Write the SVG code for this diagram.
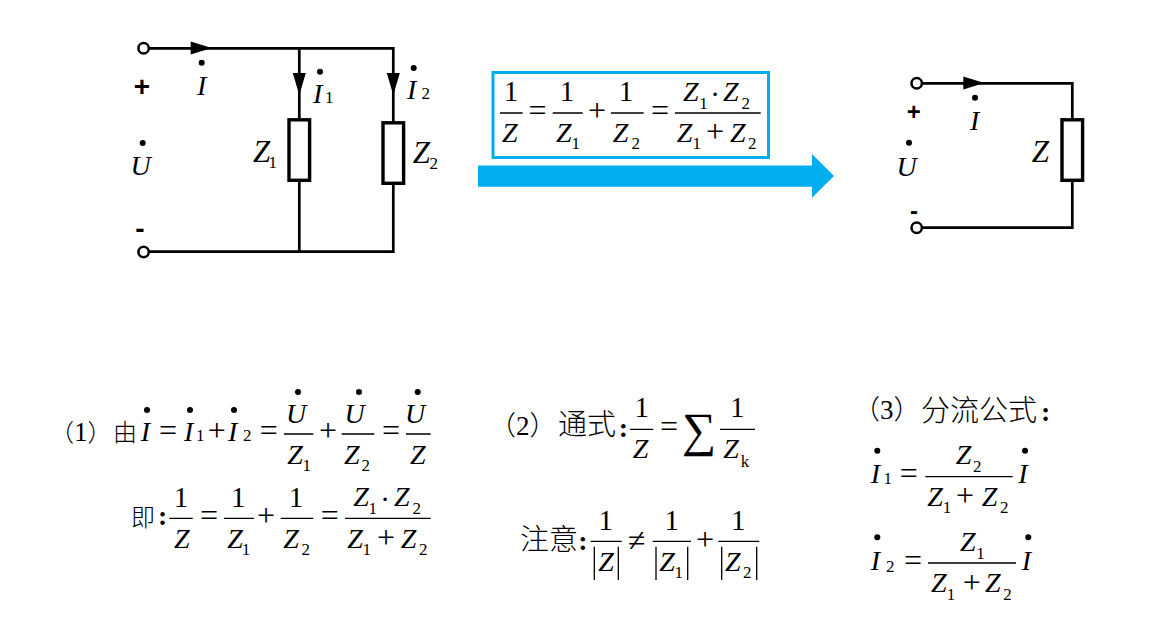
<svg xmlns="http://www.w3.org/2000/svg" xmlns:xlink="http://www.w3.org/1999/xlink" width="1154" height="620" viewBox="0 0 1154 620">
<style>
text{font-family:"Liberation Serif","Noto Sans CJK SC",serif;fill:#000}
.i{font-size:28px;font-style:italic}
.g{font-size:31px;font-style:italic}
.n{font-size:29px;text-anchor:middle}
.s{font-size:17px}
.o{font-size:32px;text-anchor:middle}
.c{font-size:24px;font-weight:300}
.cb{font-size:29px;font-weight:300}
.p{font-size:24px;font-weight:300}
.k{font-size:28px;font-weight:bold;text-anchor:middle}
.b{font-family:"Liberation Sans",sans-serif;font-weight:bold;text-anchor:middle}
.w{fill:none;stroke:#000;stroke-width:2.7}
.bar{stroke:#000;stroke-width:1.3;fill:none}
.abs{stroke:#000;stroke-width:1.3;fill:none}
.r{fill:#fff;stroke:#000;stroke-width:3.4}
.t{fill:#fff;stroke:#000;stroke-width:2.5}
.d{fill:#000}
</style>
<defs>
<path id="ar" d="M0-6.5L21 0L0 6.5Z"/>
<path id="ad" d="M-6.5 0L0 22L6.5 0Z"/>
</defs>
<rect width="1154" height="620" fill="#fff"/>
<g id="connectors">
<path class="w" d="M148 48.3H393.3V122M299.3 48.3V119M393.3 184V251.7H148M299.3 181V251.7"/>
<path class="w" d="M922 83.3H1072.3V119M1072.3 181V227.7H922"/>
<use xlink:href="#ar" href="#ar" x="190.7" y="48"/>
<use xlink:href="#ad" href="#ad" x="299.3" y="73"/>
<use xlink:href="#ad" href="#ad" x="393.3" y="73"/>
<use xlink:href="#ar" href="#ar" x="963.3" y="83"/>
</g>
<g id="terminal-a"><circle class="t" cx="143.6" cy="48.3" r="5.2"/></g>
<g id="terminal-b"><circle class="t" cx="143.6" cy="252" r="5.2"/></g>
<g id="terminal-c"><circle class="t" cx="916.7" cy="83.3" r="5.2"/></g>
<g id="terminal-d"><circle class="t" cx="916.7" cy="227.7" r="5.2"/></g>
<g id="z1"><rect class="r" x="289" y="119.8" width="20.6" height="60.5"/></g>
<g id="z2"><rect class="r" x="383" y="122.8" width="20.6" height="60.5"/></g>
<g id="z"><rect class="r" x="1062" y="119.8" width="20.6" height="60.5"/></g>
<g id="circuit-labels">
<text class="b" font-size="28" x="142" y="96">+</text>
<text class="b" font-size="28" x="140" y="237.5">-</text>
<text class="i" x="130.5" y="175">U</text><circle class="d" cx="142.7" cy="143" r="3"/>
<text class="i" x="197" y="95">I</text><circle class="d" cx="201.7" cy="62.7" r="3"/>
<text class="i" x="313" y="103">I</text><text class="s" x="325" y="103">1</text><circle class="d" cx="320" cy="71.7" r="3"/>
<text class="i" x="407" y="99">I</text><text class="s" x="421.5" y="99">2</text><circle class="d" cx="413.7" cy="68" r="3"/>
<text class="g" x="253" y="161.7">Z</text><text class="s" x="268.5" y="167.5">1</text>
<text class="g" x="412.7" y="163">Z</text><text class="s" x="429.5" y="169">2</text>
<text class="b" font-size="24" x="913.7" y="119.5">+</text>
<text class="b" font-size="24" x="914" y="218.5">-</text>
<text class="i" x="896.5" y="176">U</text><circle class="d" cx="909" cy="142.7" r="3"/>
<text class="i" x="970" y="130">I</text><circle class="d" cx="975" cy="97.7" r="3"/>
<text class="g" x="1031.7" y="161.7">Z</text>
</g>
<g id="transform-arrow"><path fill="#00AEEF" d="M478 165.5H812V154L834 176L812 197.7V186.7H478Z"/></g>
<g id="formula-box">
<rect x="493" y="72.5" width="275.5" height="85" fill="#fff" stroke="#00AEEF" stroke-width="3"/>
<path class="bar" d="M500 113H522.7M552.7 113H582.7M611 113H643.7M675 113H760.7"/>
<text class="n" x="511" y="101">1</text><text class="i" x="502" y="142">Z</text>
<text class="o" x="537.5" y="121">=</text>
<text class="n" x="567" y="101">1</text><text class="i" x="556" y="142">Z</text><text class="s" x="571.5" y="149">1</text>
<text class="o" x="597" y="121">+</text>
<text class="n" x="626" y="101">1</text><text class="i" x="612.7" y="142">Z</text><text class="s" x="631.5" y="149">2</text>
<text class="o" x="660" y="121">=</text>
<text class="i" x="683" y="100.7">Z</text><text class="s" x="699.2" y="109">1</text><text class="n" x="715" y="104">·</text><text class="i" x="723" y="100.7">Z</text><text class="s" x="741.5" y="109">2</text>
<text class="i" x="676.7" y="142">Z</text><text class="s" x="692.5" y="149">1</text><text class="o" x="715" y="142">+</text><text class="i" x="730" y="142">Z</text><text class="s" x="748" y="149">2</text>
</g>
<g id="eq-1">
<text class="p" x="50" y="441">（<tspan font-size="27">1</tspan>）</text>
<text class="c" x="113" y="441">由</text>
<text class="i" x="140.7" y="441">I</text><circle class="d" cx="147" cy="410" r="3"/>
<text class="o" x="168" y="441">=</text>
<text class="i" x="184" y="441">I</text><circle class="d" cx="190" cy="410" r="3"/><text class="s" x="196" y="441">1</text>
<text class="o" x="216.7" y="441">+</text>
<text class="i" x="228" y="441">I</text><circle class="d" cx="234" cy="410" r="3"/><text class="s" x="243" y="441">2</text>
<text class="o" x="268.7" y="441">=</text>
<path class="bar" d="M284 434H313.3M341.7 434H374.3M406 434H430.7"/>
<text class="i" x="286" y="422.7">U</text><circle class="d" cx="298" cy="392" r="3"/>
<text class="i" x="287.3" y="464">Z</text><text class="s" x="302.5" y="470.7">1</text>
<text class="o" x="328" y="441">+</text>
<text class="i" x="344.5" y="422.7">U</text><circle class="d" cx="359" cy="392" r="3"/>
<text class="i" x="344" y="464">Z</text><text class="s" x="361.5" y="470.7">2</text>
<text class="o" x="391" y="441">=</text>
<text class="i" x="405" y="422.7">U</text><circle class="d" cx="417.7" cy="392" r="3"/>
<text class="i" x="410" y="464">Z</text>
</g>
<g id="eq-1b">
<text class="c" x="131" y="526">即</text><text class="k" x="162.7" y="525">:</text>
<path class="bar" d="M169.3 518.3H192.7M224 518.3H254M280.7 518.3H313.3M345 518.3H430.7"/>
<text class="n" x="181" y="507.3">1</text><text class="i" x="174" y="547.7">Z</text>
<text class="o" x="209" y="526.3">=</text>
<text class="n" x="238.3" y="507.3">1</text><text class="i" x="227.3" y="547.7">Z</text><text class="s" x="241.8" y="555">1</text>
<text class="o" x="266" y="526.3">+</text>
<text class="n" x="296" y="507.3">1</text><text class="i" x="283.3" y="547.7">Z</text><text class="s" x="301.5" y="555">2</text>
<text class="o" x="329.7" y="526.3">=</text>
<text class="i" x="353.3" y="506">Z</text><text class="s" x="368.5" y="514.3">1</text><text class="n" x="385" y="509">·</text><text class="i" x="394" y="506">Z</text><text class="s" x="412.5" y="514.3">2</text>
<text class="i" x="347.3" y="547.7">Z</text><text class="s" x="362.5" y="555">1</text><text class="o" x="386" y="547.7">+</text><text class="i" x="400.7" y="547.7">Z</text><text class="s" x="419" y="555">2</text>
</g>
<g id="eq-2">
<text class="p" x="489" y="435" style="font-size:27px">（<tspan font-size="27">2</tspan>）</text>
<text class="cb" x="558" y="435">通式</text><text class="k" x="623.3" y="437">:</text>
<path class="bar" d="M630 429.3H653.3M720 429.3H755"/>
<text class="n" x="641.7" y="416.7">1</text><text class="i" x="632.7" y="458.3">Z</text>
<text class="o" x="669" y="437.3">=</text>
<text x="699" y="446" font-size="48" text-anchor="middle">∑</text>
<text class="n" x="737.3" y="416.7">1</text><text class="i" x="723.3" y="458.3">Z</text><text class="s" x="740.7" y="467.3">k</text>
</g>
<g id="eq-2b">
<text class="cb" x="520" y="550">注意</text><text class="k" x="583" y="550">:</text>
<path class="bar" d="M590.7 541.3H621.7M652.7 541.3H691M718.3 541.3H759.3"/>
<path class="abs" d="M594.3 546.7V580M618.3 546.7V580M656 546.7V580M687.7 546.7V580M721.7 546.7V580M756.7 546.7V580"/>
<text class="n" x="605.7" y="530">1</text><text class="i" x="598.3" y="570.7">Z</text>
<text class="o" x="636.7" y="551">≠</text>
<text class="n" x="671.7" y="530">1</text><text class="i" x="659.3" y="570.7">Z</text><text class="s" x="674.5" y="578.3">1</text>
<text class="o" x="705" y="550">+</text>
<text class="n" x="738.3" y="530">1</text><text class="i" x="725" y="570.7">Z</text><text class="s" x="743" y="578.3">2</text>
</g>
<g id="eq-3">
<text class="p" x="853" y="419.3" style="font-size:27px">（<tspan font-size="27">3</tspan>）</text>
<text class="cb" x="921" y="421">分流公式</text><text class="k" x="1045.7" y="421">:</text>
<text class="i" x="870.7" y="482.7">I</text><circle class="d" cx="877.3" cy="450.7" r="3"/><text class="s" x="883.5" y="484">1</text>
<text class="o" x="908.7" y="484">=</text>
<path class="bar" d="M925.3 476.7H1012.7M928 563H1016"/>
<text class="i" x="955.7" y="464">Z</text><text class="s" x="973" y="471.7">2</text>
<text class="i" x="927.3" y="505.7">Z</text><text class="s" x="942.8" y="513.3">1</text><text class="o" x="965" y="506">+</text><text class="i" x="981.7" y="505.7">Z</text><text class="s" x="1000" y="513.3">2</text>
<text class="i" x="1018.3" y="482.7">I</text><circle class="d" cx="1025" cy="450.7" r="3"/>
<text class="i" x="870.7" y="570">I</text><circle class="d" cx="877.3" cy="537.3" r="3"/><text class="s" x="886" y="572">2</text>
<text class="o" x="913" y="571">=</text>
<text class="i" x="960" y="550.7">Z</text><text class="s" x="976.2" y="559">1</text>
<text class="i" x="931" y="592.3">Z</text><text class="s" x="946.8" y="600">1</text><text class="o" x="971.7" y="592.6">+</text><text class="i" x="985" y="592.3">Z</text><text class="s" x="1003.3" y="600">2</text>
<text class="i" x="1021.7" y="570">I</text><circle class="d" cx="1028.3" cy="537.3" r="3"/>
</g>
</svg>
